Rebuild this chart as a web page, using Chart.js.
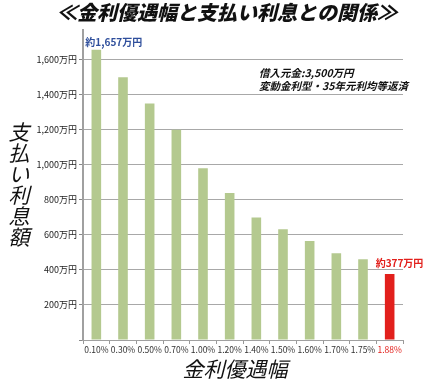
<!DOCTYPE html>
<html>
<head>
<meta charset="utf-8">
<script src="https://cdn.jsdelivr.net/npm/chart.js@4/dist/chart.umd.min.js"></script>
<style>
  html, body { margin: 0; padding: 0; background: #ffffff; }
  #wrap { width: 427px; height: 382px; position: relative; }
</style>
</head>
<body>
<div id="wrap"><canvas id="c" width="427" height="382"></canvas></div>
<script>
// ---- data ----
const categories = ['0.10%', '0.30%', '0.50%', '0.70%', '1.00%', '1.20%', '1.40%', '1.50%', '1.60%', '1.70%', '1.75%', '1.88%'];
const interestPaid = [1657, 1500, 1350, 1200, 981, 840, 700, 632, 565, 495, 461, 377];
const yTickValues = [0, 200, 400, 600, 800, 1000, 1200, 1400, 1600];
const highlightIndex = 11;
const barLabels = [{ index: 0, text: '約1,657万円' }, { index: 11, text: '約377万円' }];
const chartTitle = '≪金利優遇幅と支払い利息との関係≫';
const yTitle = '支払い利息額';
const xTitle = '金利優遇幅';
const noteLines = ['借入元金:3,500万円', '変動金利型・35年元利均等返済'];

// ---- styles ----
const GREEN = '#b4c98f';
const RED = '#e2201c';
const BLUE = '#2f4f9c';
const JP = '"Noto Sans CJK JP", "Noto Sans", sans-serif';

const decorPlugin = {
  id: 'decor',
  afterDraw(chart) {
    const ctx = chart.ctx;
    const area = chart.chartArea;
    ctx.save();
    // title
    ctx.fillStyle = '#111';
    ctx.font = 'italic 900 20px ' + JP;
    ctx.textAlign = 'center';
    ctx.textBaseline = 'middle';
    ctx.fillText(chartTitle, 227, 12);

    // y title (vertical, stacked)
    ctx.font = 'italic 21px ' + JP;
    ctx.fillStyle = '#111';
    const chars = Array.from(yTitle);
    chars.forEach((ch, i) => {
      ctx.fillText(ch, 19, 132 + i * 21);
    });

    // x title
    ctx.font = 'italic 21px ' + JP;
    ctx.fillText(xTitle, (area.left + area.right) / 2 - 8, 369);

    // note
    ctx.font = 'italic bold 10.5px ' + JP;
    ctx.textAlign = 'left';
    ctx.fillStyle = '#111';
    ctx.fillText(noteLines[0], 259, 73);
    ctx.fillText(noteLines[1], 259, 86);

    // bar labels
    const meta = chart.getDatasetMeta(0);
    ctx.font = 'bold 10px ' + JP;
    ctx.textBaseline = 'alphabetic';
    barLabels.forEach(l => {
      const bar = meta.data[l.index];
      ctx.fillStyle = l.index === highlightIndex ? RED : BLUE;
      ctx.textAlign = 'left';
      const x = l.index === highlightIndex ? bar.x - 14 : bar.x - 11;
      const y = l.index === highlightIndex ? bar.y - 7 : bar.y - 4;
      ctx.fillText(l.text, x, y);
    });
    ctx.restore();
  }
};

new Chart(document.getElementById('c'), {
  type: 'bar',
  data: {
    labels: categories,
    datasets: [{
      data: interestPaid,
      backgroundColor: interestPaid.map((v, i) => i === highlightIndex ? RED : GREEN),
      borderWidth: 0,
      barPercentage: 0.36,
      categoryPercentage: 1.0
    }]
  },
  options: {
    responsive: false,
    animation: false,
    devicePixelRatio: 1,
    layout: { padding: { top: 30, right: 24, left: 0, bottom: 0 } },
    plugins: {
      legend: { display: false },
      tooltip: { enabled: false },
      title: { display: false }
    },
    scales: {
      x: {
        grid: {
          display: true,
          offset: true,
          drawOnChartArea: false,
          drawTicks: true,
          tickLength: 4,
          color: '#999'
        },
        border: { display: true, color: '#a0a0a0', width: 1 },
        ticks: {
          autoSkip: false,
          maxRotation: 0,
          minRotation: 0,
          padding: 1,
          font: { family: JP, size: 8.5 },
          color: categories.map((c, i) => i === highlightIndex ? RED : '#333')
        },
        afterFit(scale) { scale.height = 42; }
      },
      y: {
        min: 0,
        max: 1770,
        afterBuildTicks(scale) {
          scale.ticks = yTickValues.map(v => ({ value: v }));
        },
        grid: {
          color: '#a8a8a8',
          lineWidth: 1,
          drawTicks: true,
          tickLength: 4,
          tickColor: '#888'
        },
        border: { display: true, color: '#a0a0a0', width: 2 },
        ticks: {
          padding: 2,
          font: { family: JP, size: 9 },
          color: '#222',
          callback(v) { return v === 0 ? '' : v.toLocaleString('en-US') + '万円'; }
        },
        afterFit(scale) { scale.width = 83; }
      }
    }
  },
  plugins: [decorPlugin]
});
</script>
</body>
</html>
